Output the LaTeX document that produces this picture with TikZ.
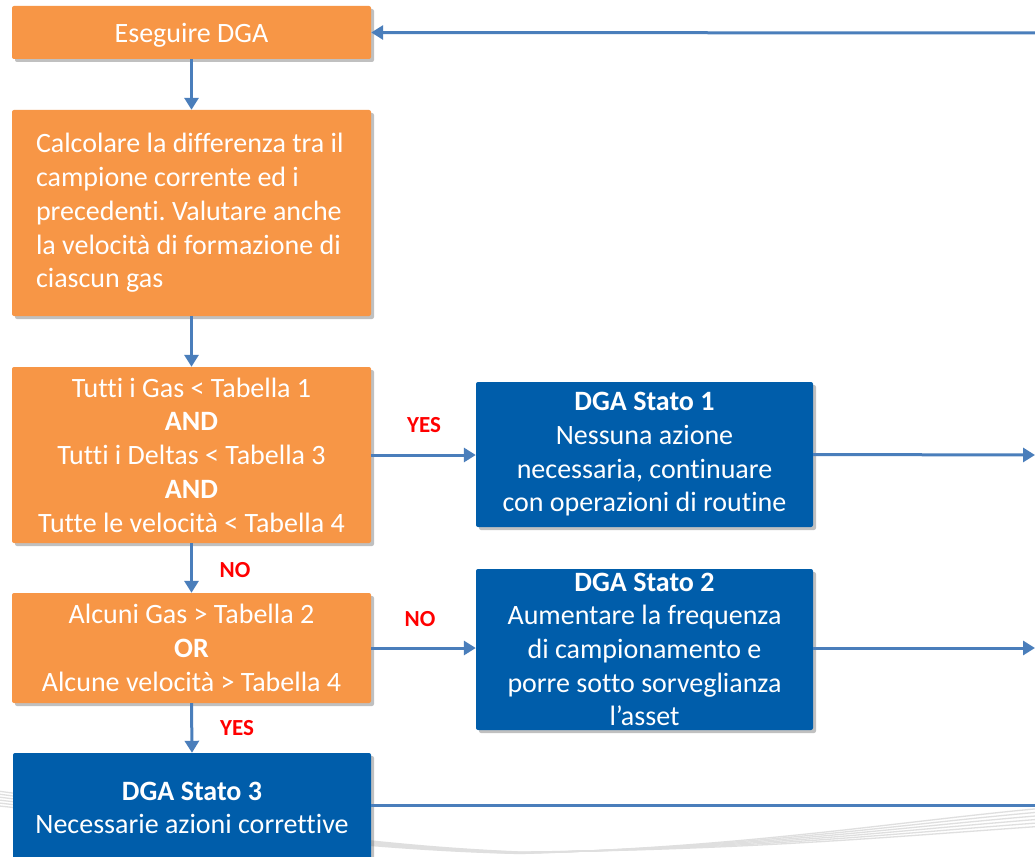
\documentclass[tikz,border=0pt]{standalone}
\usepackage{fontspec}
\setmainfont{Carlito}[Ligatures={NoCommon}]
\usetikzlibrary{shadows,arrows.meta}
\definecolor{orangebox}{HTML}{F79646}
\definecolor{bluebox}{HTML}{005DAA}
\definecolor{arrowblue}{HTML}{4A7EBB}
\definecolor{lblred}{HTML}{FF0000}
\frenchspacing
\tikzset{
  boxbase/.style={rounded corners=2pt, text=white, inner sep=0pt,
    drop shadow={shadow xshift=3pt, shadow yshift=-3pt, opacity=0.35, fill=black!70},
    font=\fontsize{28}{33.7}\selectfont, align=center},
  obox/.style={boxbase, fill=orangebox},
  bbox/.style={boxbase, fill=bluebox},
  conn/.style={draw=arrowblue, line width=3pt, -{Triangle[length=12pt,width=14pt]}},
  lbl/.style={text=lblred, font=\fontsize{23}{27}\bfseries\selectfont},
  swoosh/.style={draw=gray!25, line width=1.3pt}
}
\begin{document}
\begin{tikzpicture}[x=1pt,y=-1pt]
\useasboundingbox (0,0) rectangle (1035,856);
\fill[white] (0,0) rectangle (1035,856);
\clip (0,0) rectangle (1035,856);
% decorative swoosh
\foreach \d in {0,3,6,9,12,15}{
  \draw[swoosh] (-10,{790+\d}) .. controls (200,{818+\d*0.6}) and (350,{845+\d*0.3}) .. (520,{852+\d*0.1})
     .. controls (750,{850-\d*0.2}) and (900,{836-\d}) .. (1045,{826-\d*1.2});
}
% boxes
\node[obox, minimum width=359pt, minimum height=53pt, text depth=0pt] (b1) at (191.5,32.5) {Eseguire DGA};
\node[obox, minimum width=359pt, minimum height=206pt, text width=311pt, align=flush left] (b2) at (191.5,213)
  {Calcolare la differenza tra il\\campione corrente ed i\\precedenti. Valutare anche\\la velocità di formazione di\\ciascun gas};
\node[obox, minimum width=359pt, minimum height=176pt] (b3) at (191.5,455)
  {Tutti i Gas < Tabella 1\\\textbf{AND}\\Tutti i Deltas < Tabella 3\\\textbf{AND}\\Tutte le velocità < Tabella 4};
\node[obox, minimum width=359pt, minimum height=110pt] (b4) at (191.5,648)
  {Alcuni Gas > Tabella 2\\\textbf{OR}\\Alcune velocità > Tabella 4};
\node[bbox, minimum width=358pt, minimum height=110pt] (b5) at (192,808)
  {\textbf{DGA Stato 3}\\Necessarie azioni correttive};
\node[bbox, minimum width=337pt, minimum height=145pt] (s1) at (644.5,454.5)
  {\textbf{DGA Stato 1}\\Nessuna azione\\necessaria, continuare\\con operazioni di routine};
\node[bbox, minimum width=337pt, minimum height=161pt] (s2) at (644.5,649.5)
  {\textbf{DGA Stato 2}\\Aumentare la frequenza\\di campionamento e\\porre sotto sorveglianza\\l’asset};
% free ends
\coordinate (topR) at (1040,33);
\coordinate (r1) at (1035,455);
\coordinate (r2) at (1035,648);
\coordinate (r3) at (1050,805);
% connectors
\draw[conn] (topR) -- (b1.east);
\draw[conn] (b1.south) -- (b2.north);
\draw[conn] (b2.south) -- (b3.north);
\draw[conn] (b3.south) -- (b4.north);
\draw[conn] (b4.south) -- (b5.north);
\draw[conn] (b3.east) -- (b3.east -| s1.west);
\draw[conn] (b4.east) -- (b4.east -| s2.west);
\draw[conn] (s1.east) -- (r1);
\draw[conn] (s2.east |- r2) -- (r2);
\draw[conn] (b5.east |- r3) -- (r3);
% labels
\node[lbl] (ly1) at (424,425) {YES};
\node[lbl] (ln1) at (235,570) {NO};
\node[lbl] (ln2) at (420,619) {NO};
\node[lbl] (ly2) at (237,728) {YES};
\end{tikzpicture}
\end{document}
